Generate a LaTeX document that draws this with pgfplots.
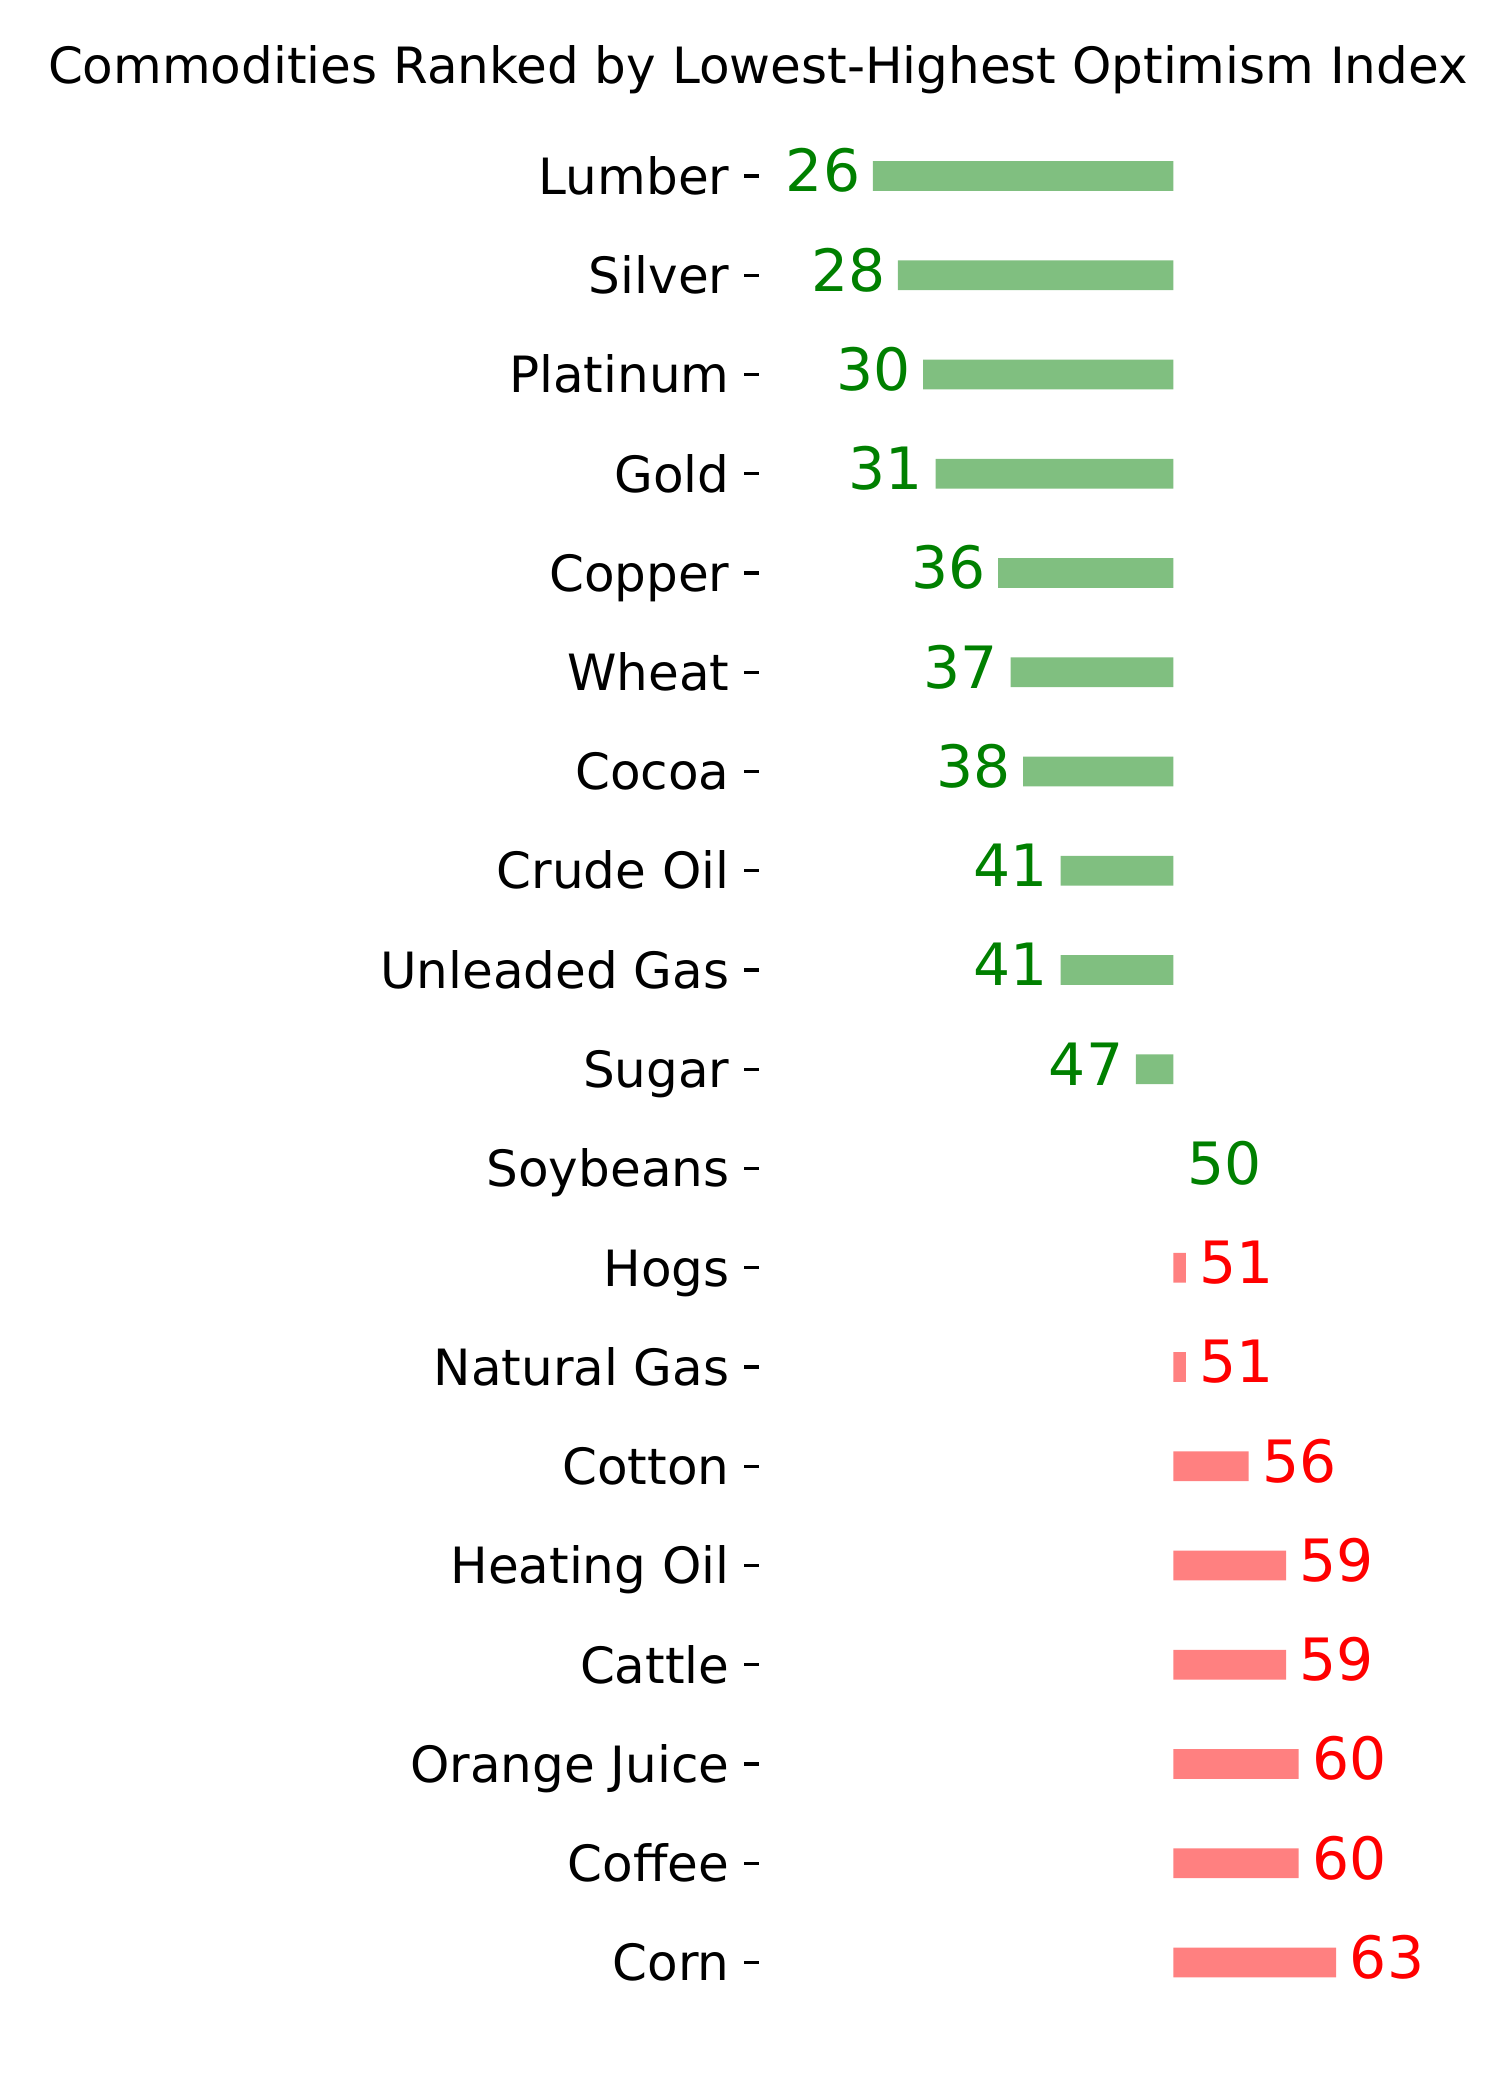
\documentclass[border=0pt]{standalone}
\usepackage{fontspec}
\setmainfont{DejaVu Sans}
\usepackage{pgfplots}
\usepackage{pgfplotstable}
\pgfplotsset{compat=1.18}
\definecolor{barg}{HTML}{80BF80}
\definecolor{barr}{HTML}{FF8080}
\definecolor{txtg}{HTML}{008000}
\definecolor{txtr}{HTML}{FF0000}

\pgfplotstableread{
i v
0 26
1 28
2 30
3 31
4 36
5 37
6 38
7 41
8 41
9 47
}\datalow
\pgfplotstableread{
i v
10 50
}\datamid
\pgfplotstableread{
i v
11 51
12 51
13 56
14 59
15 59
16 60
17 60
18 63
}\datahigh

\begin{document}
\begin{tikzpicture}
\path[use as bounding box] (0,0) rectangle (360pt,504pt);
\node[anchor=base, font=\fontsize{12}{14.4}\selectfont, inner sep=0pt] at (181.9pt,484pt) {Commodities Ranked by Lowest-Highest Optimism Index};
\begin{axis}[
  at={(182.16pt,9.18pt)}, anchor=south west,
  scale only axis, width=144.24pt, height=476.4pt,
  xmin=-33.1, xmax=14.9, ymin=-1, ymax=19, y dir=reverse,
  hide x axis,
  axis y line*=left, y axis line style={draw=none},
  ytick={0,...,18},
  yticklabels={Lumber,Silver,Platinum,Gold,Copper,Wheat,Cocoa,Crude Oil,Unleaded Gas,Sugar,Soybeans,Hogs,Natural Gas,Cotton,Heating Oil,Cattle,Orange Juice,Coffee,Corn},
  tick align=outside, major tick length=3.5pt,
  ytick style={draw=black, line width=0.8pt},
  yticklabel style={font=\fontsize{12}{14.4}\selectfont, text height=8.75pt, text depth=0pt, inner sep=0pt, anchor=east, xshift=-3.4pt},
  xbar, bar width=0.3, bar shift=0pt,
  clip=false,
  point meta=explicit symbolic,
  nodes near coords,
  every node near coord/.append style={font=\fontsize{14}{16.8}\selectfont, text height=10.2pt, text depth=0pt, inner sep=0pt},
]
\addplot[fill=barg, draw=none, every node near coord/.append style={anchor=east, text=txtg, xshift=-2.85pt, yshift=1.3pt}] table[x expr=\thisrow{v}-50, y=i, meta=v] \datalow;
\addplot[fill=none, draw=none, every node near coord/.append style={anchor=west, text=txtg, xshift=3.1pt, yshift=1.3pt}] table[x expr=\thisrow{v}-50, y=i, meta=v] \datamid;
\addplot[fill=barr, draw=none, every node near coord/.append style={anchor=west, text=txtr, xshift=3.1pt, yshift=1.3pt}] table[x expr=\thisrow{v}-50, y=i, meta=v] \datahigh;
\end{axis}
\end{tikzpicture}
\end{document}
